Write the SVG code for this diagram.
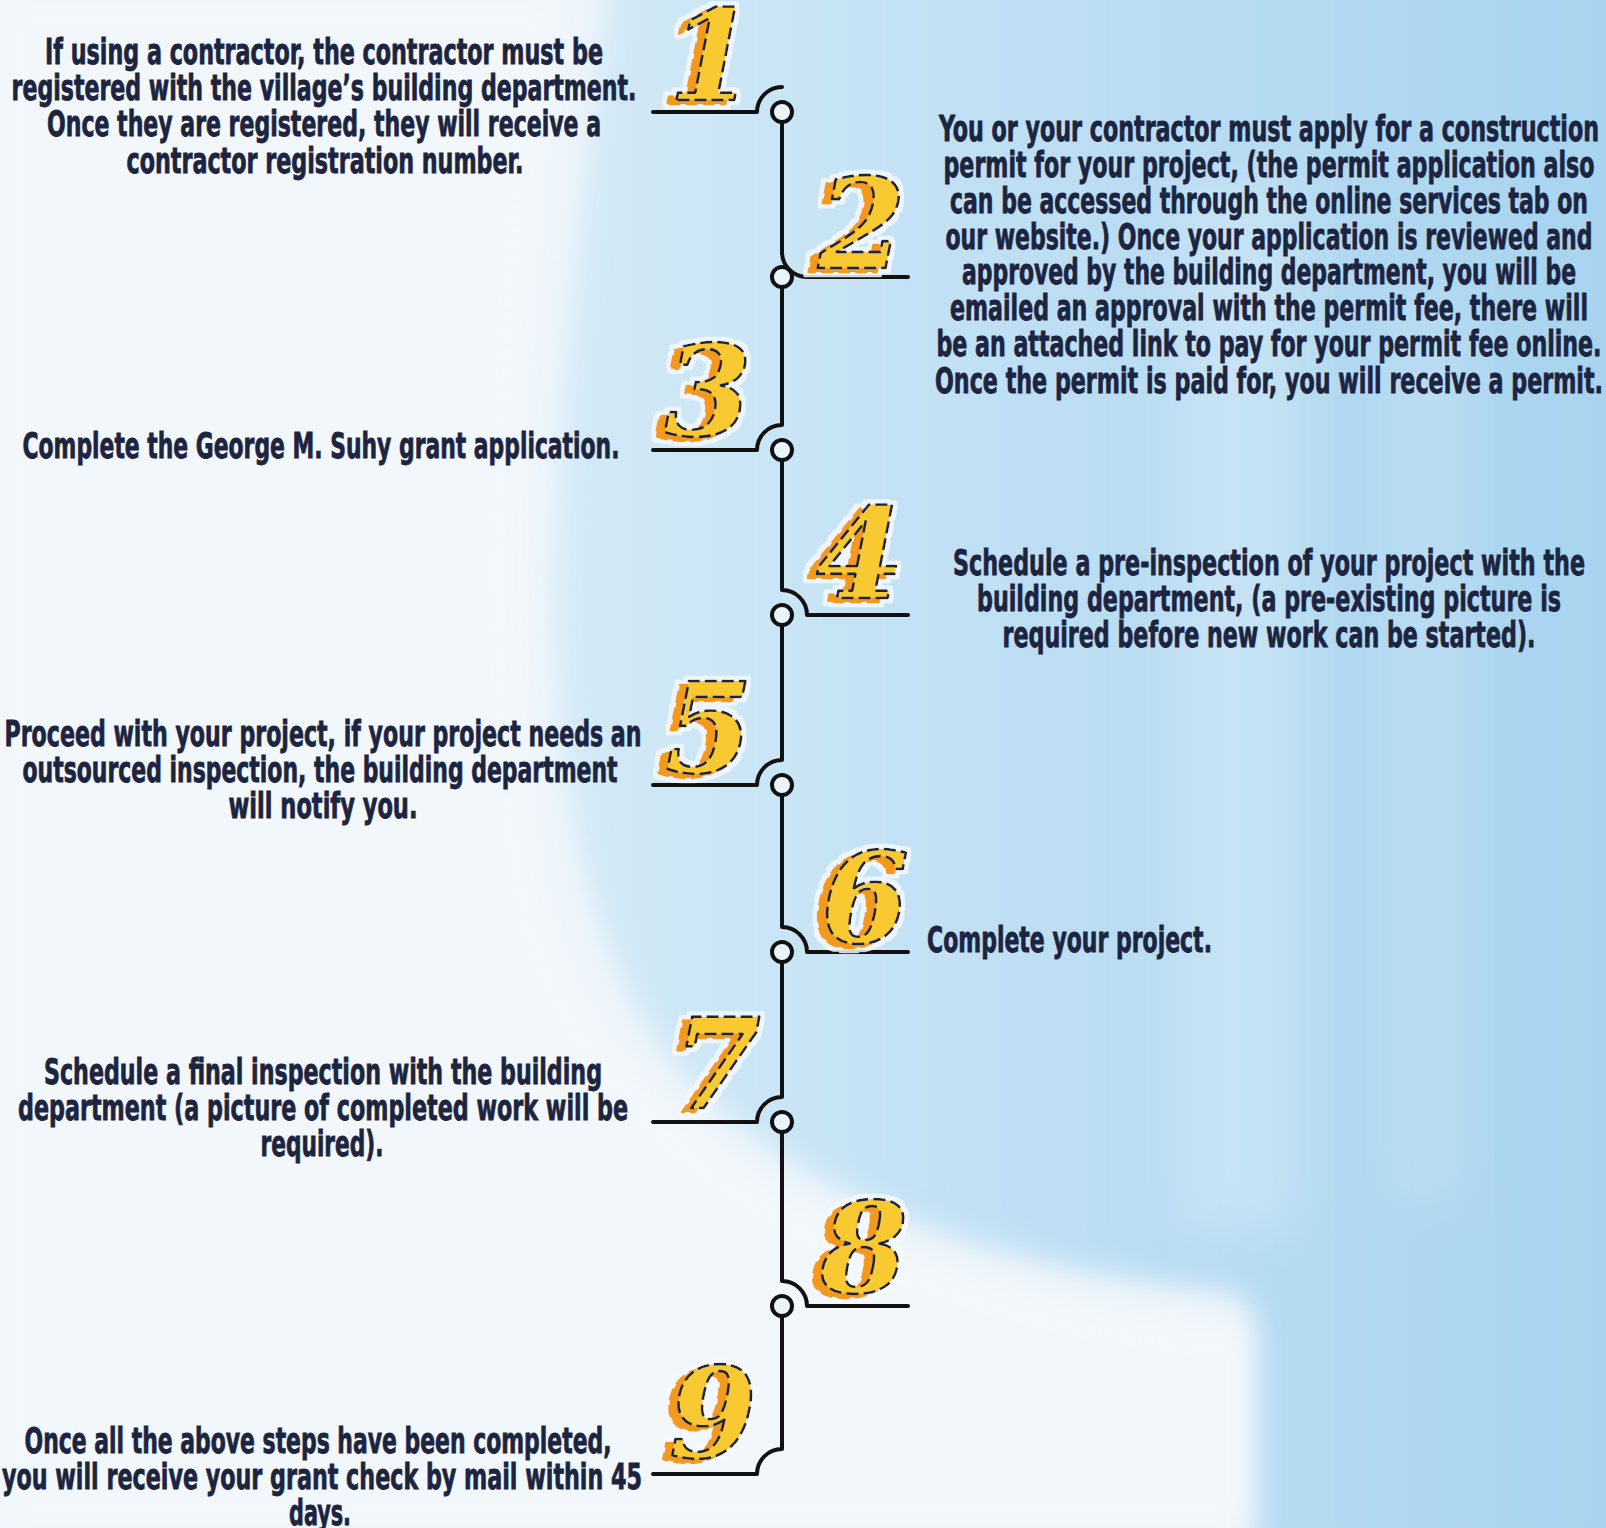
<svg xmlns="http://www.w3.org/2000/svg" width="1606" height="1528" viewBox="0 0 1606 1528">
<defs>
<linearGradient id="bg" x1="0" y1="0" x2="1" y2="0">
<stop offset="0" stop-color="#d4eaf7"/>
<stop offset="0.35" stop-color="#c2e1f4"/>
<stop offset="1" stop-color="#a6d3ef"/>
</linearGradient>
<filter id="soft" x="-10%" y="-10%" width="120%" height="120%"><feGaussianBlur stdDeviation="14"/></filter>
<filter id="soft2" x="-30%" y="-10%" width="160%" height="120%"><feGaussianBlur stdDeviation="25"/></filter>
<filter id="stk" x="-40%" y="-30%" width="180%" height="160%">
<feOffset in="SourceAlpha" dx="-9" dy="4" result="o"/>
<feMerge result="u"><feMergeNode in="o"/><feMergeNode in="SourceAlpha"/></feMerge>
<feMorphology in="u" operator="dilate" radius="4" result="d"/>
<feFlood flood-color="#f5f9fc" flood-opacity="0.85"/>
<feComposite in2="d" operator="in" result="halo"/>
<feFlood flood-color="#f39a1e"/>
<feComposite in2="o" operator="in" result="sh"/>
<feMerge><feMergeNode in="halo"/><feMergeNode in="sh"/><feMergeNode in="SourceGraphic"/></feMerge>
</filter>
<style>
.t{font-family:"DejaVu Sans Condensed","DejaVu Sans","Liberation Sans",sans-serif;font-weight:bold;font-stretch:condensed;font-size:36px;fill:#1c2440;stroke:#1c2440;stroke-width:0.8;text-anchor:middle}
.ts{text-anchor:start}
.num{font-family:"DejaVu Serif","Liberation Serif",serif;font-weight:bold;font-style:italic;font-size:126px;text-anchor:middle;fill:#f9c932;stroke:#1c2440;stroke-width:2.6;stroke-dasharray:12 5;stroke-linejoin:round;filter:url(#stk)}
.ln{fill:none;stroke:#111;stroke-width:4;stroke-linecap:round;stroke-linejoin:round}
.dot{fill:#e9f4fb;stroke:#111;stroke-width:4}
</style>
</defs>
<g id="background">
<rect width="1606" height="1528" fill="#eef5fa"/>
<path d="M610,-40 L1650,-40 L1650,1560 L1255,1560 L1255,1330 C1255,1300 1240,1290 1200,1288 C990,1265 810,1200 690,1080 C595,985 555,800 556,600 C558,350 592,150 610,-40 Z" fill="url(#bg)" filter="url(#soft)"/>
<rect x="1180" y="180" width="120" height="1050" fill="#ffffff" opacity="0.22" filter="url(#soft2)"/>
<rect x="1390" y="300" width="80" height="900" fill="#ffffff" opacity="0.14" filter="url(#soft2)"/>
<path d="M0,0 L560,0 C520,300 505,700 545,900 C605,1150 900,1300 1250,1330 L1250,1528 L0,1528 Z" fill="#f6f9fc" opacity="0.6" filter="url(#soft)"/>
</g>
<g id="connectors">
<path class="ln" d="M653,112 H757 A25,25 0 0 1 782,87"/>
<path class="ln" d="M782,122 V252 A25,25 0 0 0 807,277 H908"/>
<path class="ln" d="M782,287 V425 A25,25 0 0 0 757,450 H653"/>
<path class="ln" d="M782,460 V590 A25,25 0 0 1 807,615 H908"/>
<path class="ln" d="M782,625 V760 A25,25 0 0 0 757,785 H653"/>
<path class="ln" d="M782,795 V927 A25,25 0 0 1 807,952 H908"/>
<path class="ln" d="M782,962 V1097 A25,25 0 0 0 757,1122 H653"/>
<path class="ln" d="M782,1132 V1281 A25,25 0 0 1 807,1306 H908"/>
<path class="ln" d="M782,1316 V1449 A25,25 0 0 0 757,1474 H653"/>
</g>
<g id="step1">
<text class="num" x="712" y="100">1</text>
<circle class="dot" cx="782" cy="112" r="10"/>
<g transform="translate(324,0) scale(0.68,1)">
<text class="t" x="0" y="64" textLength="820.6" lengthAdjust="spacingAndGlyphs">If using a contractor, the contractor must be</text>
<text class="t" x="0" y="100" textLength="919.1" lengthAdjust="spacingAndGlyphs">registered with the village’s building department.</text>
<text class="t" x="0" y="136" textLength="814.7" lengthAdjust="spacingAndGlyphs">Once they are registered, they will receive a</text>
<text class="t" x="1.5" y="173" textLength="583.8" lengthAdjust="spacingAndGlyphs">contractor registration number.</text>
</g>
</g>
<g id="step2">
<text class="num" x="862" y="268">2</text>
<circle class="dot" cx="782" cy="277" r="10"/>
<g transform="translate(1269,0) scale(0.68,1)">
<text class="t" x="0" y="141" textLength="970.6" lengthAdjust="spacingAndGlyphs">You or your contractor must apply for a construction</text>
<text class="t" x="0" y="177" textLength="957.4" lengthAdjust="spacingAndGlyphs">permit for your project, (the permit application also</text>
<text class="t" x="0" y="213" textLength="938.2" lengthAdjust="spacingAndGlyphs">can be accessed through the online services tab on</text>
<text class="t" x="0" y="249" textLength="951.5" lengthAdjust="spacingAndGlyphs">our website.) Once your application is reviewed and</text>
<text class="t" x="0" y="284" textLength="902.9" lengthAdjust="spacingAndGlyphs">approved by the building department, you will be</text>
<text class="t" x="0" y="320" textLength="938.2" lengthAdjust="spacingAndGlyphs">emailed an approval with the permit fee, there will</text>
<text class="t" x="0" y="356" textLength="977.9" lengthAdjust="spacingAndGlyphs">be an attached link to pay for your permit fee online.</text>
<text class="t" x="0" y="393" textLength="982.4" lengthAdjust="spacingAndGlyphs">Once the permit is paid for, you will receive a permit.</text>
</g>
</g>
<g id="step3">
<text class="num" x="708" y="435">3</text>
<circle class="dot" cx="782" cy="450" r="10"/>
<g transform="translate(321,0) scale(0.68,1)">
<text class="t" x="0" y="458" textLength="877.9" lengthAdjust="spacingAndGlyphs">Complete the George M. Suhy grant application.</text>
</g>
</g>
<g id="step4">
<text class="num" x="860" y="598">4</text>
<circle class="dot" cx="782" cy="615" r="10"/>
<g transform="translate(1269,0) scale(0.68,1)">
<text class="t" x="0" y="575" textLength="929.4" lengthAdjust="spacingAndGlyphs">Schedule a pre-inspection of your project with the</text>
<text class="t" x="0" y="611" textLength="858.8" lengthAdjust="spacingAndGlyphs">building department, (a pre-existing picture is</text>
<text class="t" x="0" y="647" textLength="783.8" lengthAdjust="spacingAndGlyphs">required before new work can be started).</text>
</g>
</g>
<g id="step5">
<text class="num" x="709" y="772">5</text>
<circle class="dot" cx="782" cy="785" r="10"/>
<g transform="translate(323,0) scale(0.68,1)">
<text class="t" x="0" y="746" textLength="936.8" lengthAdjust="spacingAndGlyphs">Proceed with your project, if your project needs an</text>
<text class="t" x="-4.4" y="782" textLength="875" lengthAdjust="spacingAndGlyphs">outsourced inspection, the building department</text>
<text class="t" x="0" y="818" textLength="277.9" lengthAdjust="spacingAndGlyphs">will notify you.</text>
</g>
</g>
<g id="step6">
<text class="num" x="865" y="942">6</text>
<circle class="dot" cx="782" cy="952" r="10"/>
<g transform="translate(927,0) scale(0.68,1)">
<text class="t ts" x="0" y="952" textLength="419.1" lengthAdjust="spacingAndGlyphs">Complete your project.</text>
</g>
</g>
<g id="step7">
<text class="num" x="717" y="1108">7</text>
<circle class="dot" cx="782" cy="1122" r="10"/>
<g transform="translate(323,0) scale(0.68,1)">
<text class="t" x="0" y="1084" textLength="820.6" lengthAdjust="spacingAndGlyphs">Schedule a final inspection with the building</text>
<text class="t" x="0" y="1120" textLength="897.1" lengthAdjust="spacingAndGlyphs">department (a picture of completed work will be</text>
<text class="t" x="-1.5" y="1156" textLength="180.9" lengthAdjust="spacingAndGlyphs">required).</text>
</g>
</g>
<g id="step8">
<text class="num" x="864" y="1292">8</text>
<circle class="dot" cx="782" cy="1306" r="10"/>
</g>
<g id="step9">
<text class="num" x="713" y="1457">9</text>
<g transform="translate(320,0) scale(0.68,1)">
<text class="t" x="-2.9" y="1453" textLength="863.2" lengthAdjust="spacingAndGlyphs">Once all the above steps have been completed,</text>
<text class="t" x="2.9" y="1489" textLength="941.2" lengthAdjust="spacingAndGlyphs">you will receive your grant check by mail within 45</text>
<text class="t" x="0" y="1525" textLength="91.2" lengthAdjust="spacingAndGlyphs">days.</text>
</g>
</g>
</svg>
